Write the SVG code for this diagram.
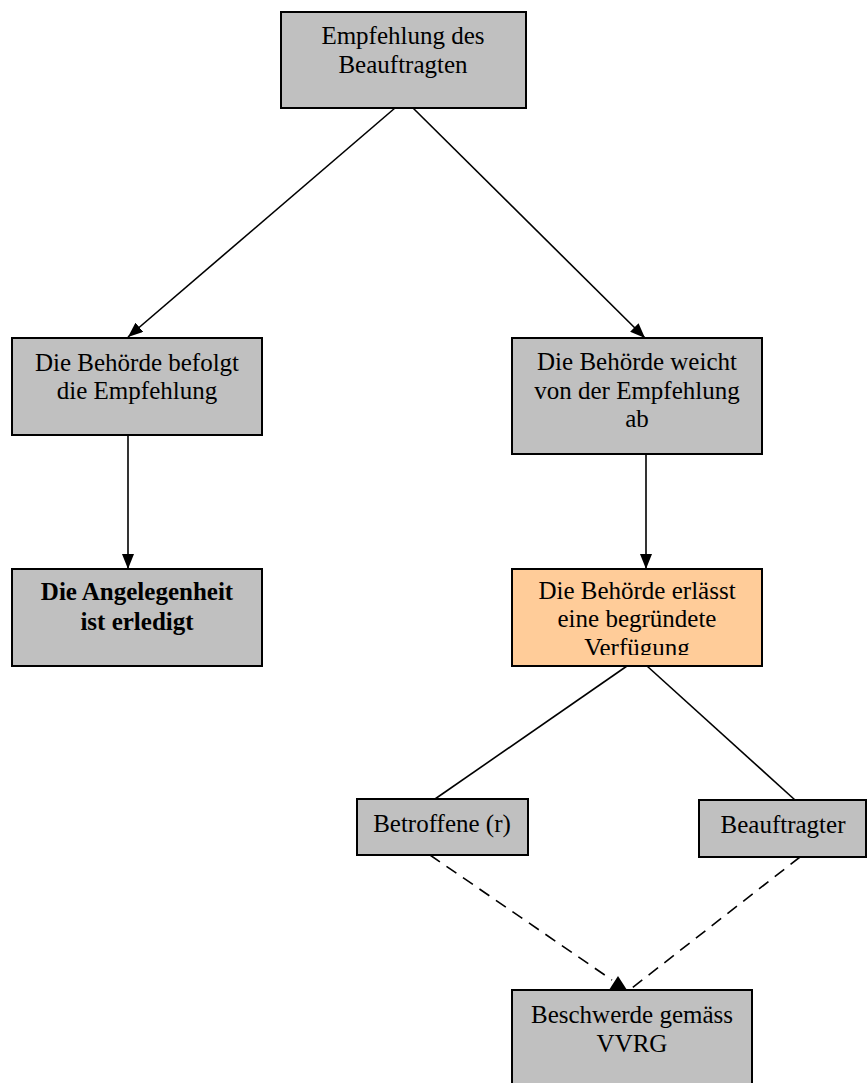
<svg xmlns="http://www.w3.org/2000/svg" width="868" height="1083" viewBox="0 0 868 1083">
<style>
.box{fill:#C0C0C0;stroke:#000;stroke-width:2}
.orange{fill:#FFCC99;stroke:#000;stroke-width:2}
.t{font-family:"Liberation Serif","Times New Roman",serif;font-size:25px;fill:#000;text-anchor:middle}
.b{font-weight:bold}
.c{stroke:#000;stroke-width:1.6;fill:none}
.d{stroke-dasharray:12 8}
</style>
<defs>
<marker id="arr" viewBox="0 0 15 12" refX="15" refY="6" markerWidth="15" markerHeight="12" markerUnits="userSpaceOnUse" orient="auto">
<path d="M0,0 L15,6 L0,12 Z" fill="#000"/>
</marker>
<clipPath id="clipO"><rect x="512" y="569" width="250" height="86"/></clipPath>
</defs>
<g id="connectors">
<line class="c" x1="395" y1="108" x2="128" y2="337" marker-end="url(#arr)"/>
<line class="c" x1="413" y1="108" x2="645" y2="338" marker-end="url(#arr)"/>
<line class="c" x1="128" y1="435" x2="128" y2="569" marker-end="url(#arr)"/>
<line class="c" x1="646" y1="454" x2="646" y2="569" marker-end="url(#arr)"/>
<line class="c" x1="627" y1="666" x2="435" y2="799"/>
<line class="c" x1="647" y1="666" x2="795" y2="800"/>
<line class="c d" x1="430" y1="855" x2="612" y2="980"/>
<line class="c d" x1="800" y1="857" x2="632" y2="988"/>
<polygon points="618,976 609,990 627,990" fill="#000"/>
</g>
<g id="n1">
<rect class="box" x="281" y="12" width="245" height="96"/>
<text class="t" x="403" y="44">Empfehlung des</text>
<text class="t" x="403" y="73">Beauftragten</text>
</g>
<g id="n2">
<rect class="box" x="12" y="338" width="250" height="97"/>
<text class="t" x="137" y="371">Die Behörde befolgt</text>
<text class="t" x="137" y="399">die Empfehlung</text>
</g>
<g id="n3">
<rect class="box" x="512" y="338" width="250" height="116"/>
<text class="t" x="637" y="370">Die Behörde weicht</text>
<text class="t" x="637" y="399">von der Empfehlung</text>
<text class="t" x="637" y="427">ab</text>
</g>
<g id="n4">
<rect class="box" x="12" y="569" width="250" height="97"/>
<text class="t b" x="137" y="600">Die Angelegenheit</text>
<text class="t b" x="137" y="630">ist erledigt</text>
</g>
<g id="n5">
<rect class="orange" x="512" y="569" width="250" height="97"/>
<g clip-path="url(#clipO)">
<text class="t" x="637" y="599">Die Behörde erlässt</text>
<text class="t" x="637" y="627">eine begründete</text>
<text class="t" x="637" y="656">Verfügung</text>
</g>
</g>
<g id="n6">
<rect class="box" x="357" y="799" width="171" height="56"/>
<text class="t" x="442" y="832">Betroffene (r)</text>
</g>
<g id="n7">
<rect class="box" x="699" y="800" width="167" height="57"/>
<text class="t" x="783" y="833">Beauftragter</text>
</g>
<g id="n8">
<rect class="box" x="512" y="990" width="240" height="100"/>
<text class="t" x="632" y="1023">Beschwerde gemäss</text>
<text class="t" x="632" y="1052">VVRG</text>
</g>
</svg>
